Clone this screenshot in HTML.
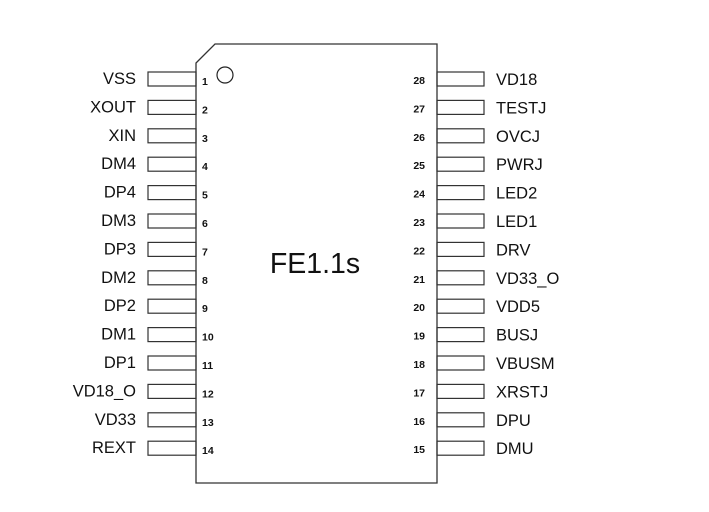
<!DOCTYPE html>
<html><head><style>body{margin:0;background:#fff}svg{display:block}</style></head>
<body>
<svg width="709" height="512" xmlns="http://www.w3.org/2000/svg" font-family="Liberation Sans, Arial, sans-serif">
<path d="M196,63 L215,44 L437,44 L437,483 L196,483 Z" fill="none" stroke="#333" stroke-width="1.3"/>
<circle cx="225" cy="75" r="8" fill="none" stroke="#222" stroke-width="1.2"/>
<text x="315" y="273" font-size="28.5" text-anchor="middle" fill="#111">FE1.1s</text>
<g id="L" fill="none" stroke="#333" stroke-width="1.2">
<rect x="148" y="72" width="48" height="14"/><rect x="148" y="100.4" width="48" height="14"/><rect x="148" y="128.8" width="48" height="14"/><rect x="148" y="157.2" width="48" height="14"/><rect x="148" y="185.6" width="48" height="14"/><rect x="148" y="214" width="48" height="14"/><rect x="148" y="242.4" width="48" height="14"/><rect x="148" y="270.8" width="48" height="14"/><rect x="148" y="299.2" width="48" height="14"/><rect x="148" y="327.6" width="48" height="14"/><rect x="148" y="356" width="48" height="14"/><rect x="148" y="384.4" width="48" height="14"/><rect x="148" y="412.8" width="48" height="14"/><rect x="148" y="441.2" width="48" height="14"/>
<rect x="437" y="72" width="47" height="14"/><rect x="437" y="100.4" width="47" height="14"/><rect x="437" y="128.8" width="47" height="14"/><rect x="437" y="157.2" width="47" height="14"/><rect x="437" y="185.6" width="47" height="14"/><rect x="437" y="214" width="47" height="14"/><rect x="437" y="242.4" width="47" height="14"/><rect x="437" y="270.8" width="47" height="14"/><rect x="437" y="299.2" width="47" height="14"/><rect x="437" y="327.6" width="47" height="14"/><rect x="437" y="356" width="47" height="14"/><rect x="437" y="384.4" width="47" height="14"/><rect x="437" y="412.8" width="47" height="14"/><rect x="437" y="441.2" width="47" height="14"/>
</g>
<g font-size="16.5" fill="#111" text-anchor="end">
<text x="136" y="84">VSS</text><text x="136" y="112.4">XOUT</text><text x="136" y="140.8">XIN</text><text x="136" y="169.2">DM4</text><text x="136" y="197.6">DP4</text><text x="136" y="226">DM3</text><text x="136" y="254.4">DP3</text><text x="136" y="282.8">DM2</text><text x="136" y="311.2">DP2</text><text x="136" y="339.6">DM1</text><text x="136" y="368">DP1</text><text x="136" y="396.4">VD18_O</text><text x="136" y="424.8">VD33</text><text x="136" y="453.2">REXT</text>
</g>
<g font-size="16.5" fill="#111">
<text x="496" y="85">VD18</text><text x="496" y="113.4">TESTJ</text><text x="496" y="141.8">OVCJ</text><text x="496" y="170.2">PWRJ</text><text x="496" y="198.6">LED2</text><text x="496" y="227">LED1</text><text x="496" y="255.4">DRV</text><text x="496" y="283.8">VD33_O</text><text x="496" y="312.2">VDD5</text><text x="496" y="340.6">BUSJ</text><text x="496" y="369">VBUSM</text><text x="496" y="397.4">XRSTJ</text><text x="496" y="425.8">DPU</text><text x="496" y="454.2">DMU</text>
</g>
<g font-size="10.5" font-weight="bold" fill="#111">
<text x="202" y="85">1</text><text x="202" y="113.4">2</text><text x="202" y="141.8">3</text><text x="202" y="170.2">4</text><text x="202" y="198.6">5</text><text x="202" y="227">6</text><text x="202" y="255.4">7</text><text x="202" y="283.8">8</text><text x="202" y="312.2">9</text><text x="202" y="340.6">10</text><text x="202" y="369">11</text><text x="202" y="397.4">12</text><text x="202" y="425.8">13</text><text x="202" y="454.2">14</text>
</g>
<g font-size="10.5" font-weight="bold" fill="#111" text-anchor="end">
<text x="425" y="84">28</text><text x="425" y="112.4">27</text><text x="425" y="140.8">26</text><text x="425" y="169.2">25</text><text x="425" y="197.6">24</text><text x="425" y="226">23</text><text x="425" y="254.4">22</text><text x="425" y="282.8">21</text><text x="425" y="311.2">20</text><text x="425" y="339.6">19</text><text x="425" y="368">18</text><text x="425" y="396.4">17</text><text x="425" y="424.8">16</text><text x="425" y="453.2">15</text>
</g>
</svg>
</body></html>
